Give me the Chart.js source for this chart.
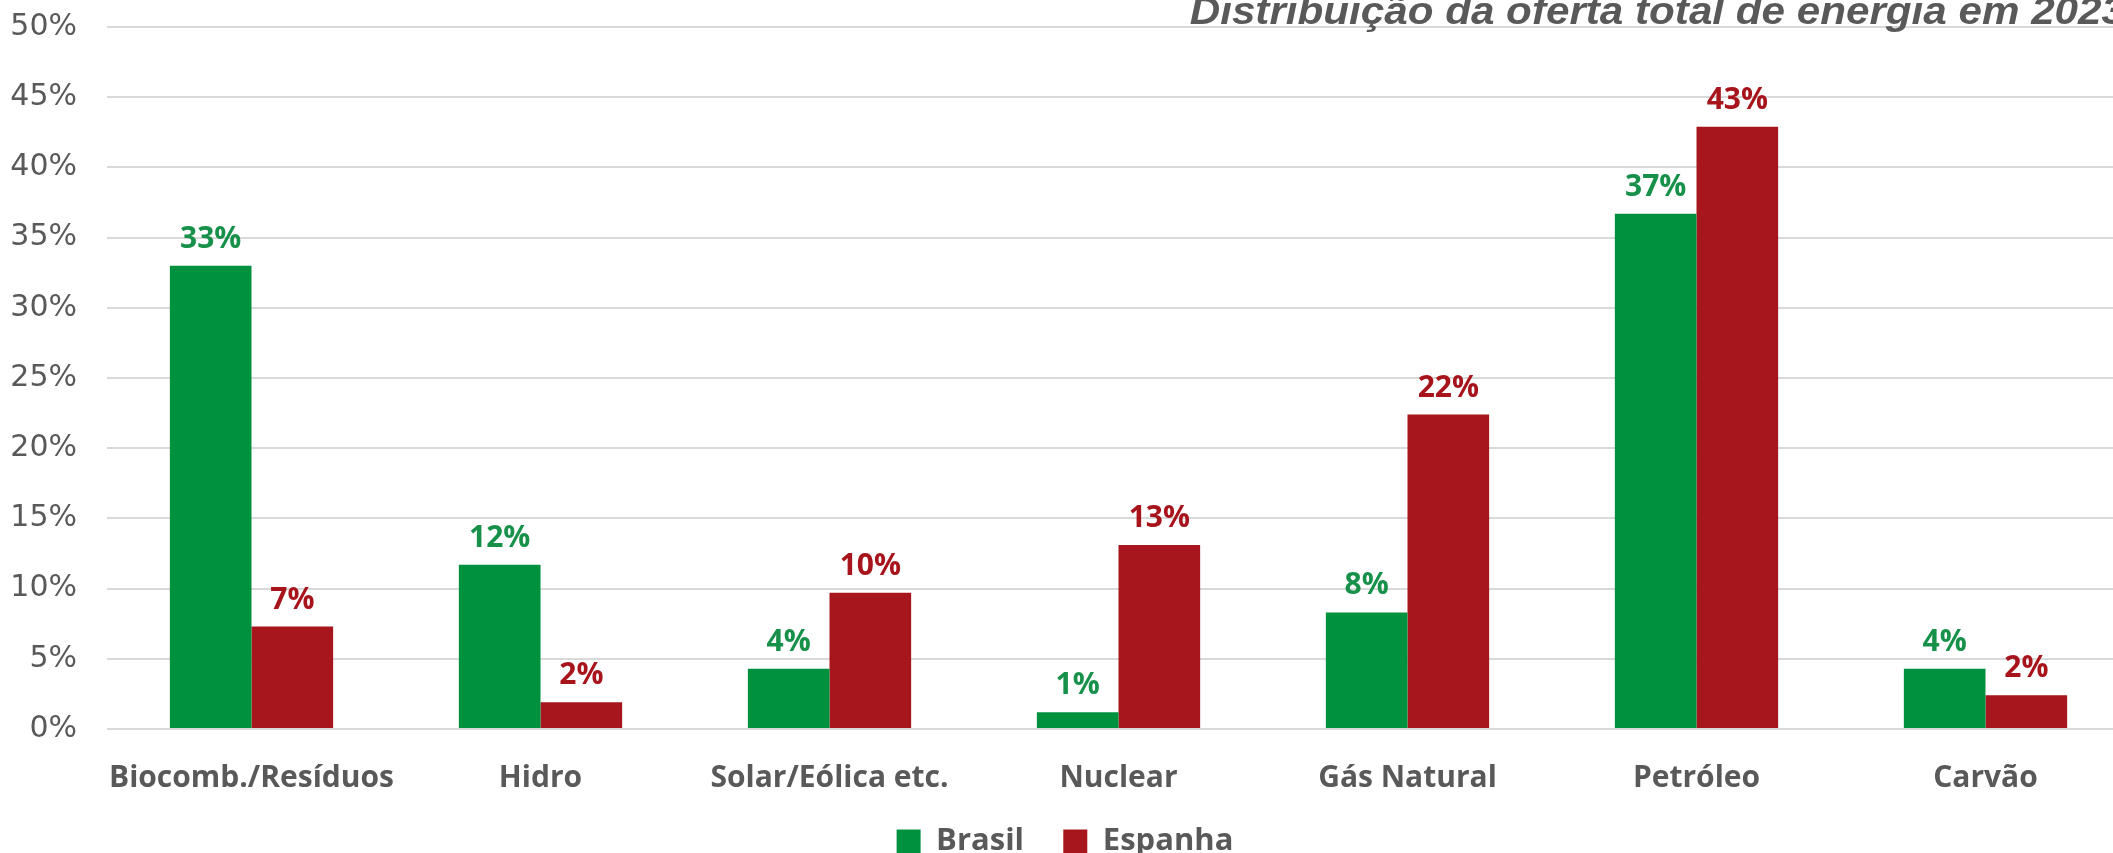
<!DOCTYPE html>
<html>
<head>
<meta charset="utf-8">
<script src="https://cdn.jsdelivr.net/npm/chart.js@4"></script>
<style>
  html, body { margin: 0; padding: 0; background: #fff; overflow: hidden; }
  #box { position: relative; width: 2130px; height: 853px; }
</style>
</head>
<body>
<div id="box"><canvas id="oferta"></canvas></div>
<script>
// dados (% da oferta total)
const categorias = ["Biocomb./Resíduos", "Hidro", "Solar/Eólica etc.", "Nuclear", "Gás Natural", "Petróleo", "Carvão"];
const brasil = [33.0, 11.7, 4.3, 1.2, 8.3, 36.7, 4.3];
const espanha = [7.3, 1.9, 9.7, 13.1, 22.4, 42.9, 2.4];
const titulo = "Distribuição da oferta total de energia em 2023";

const verde = "#00913f";
const vermelho = "#a6161c";
const cinza = "#595959";

// rótulos em cima das barras
const rotulos = {
    id: "rotulos",
    afterDatasetsDraw(chart) {
        const ctx = chart.ctx;
        ctx.save();
        ctx.font = "bold 30px 'Open Sans'";
        ctx.textAlign = "center";
        ctx.textBaseline = "alphabetic";
        chart.data.datasets.forEach(function(ds, i) {
            ctx.fillStyle = ds.labelColor;
            chart.getDatasetMeta(i).data.forEach(function(bar, j) {
                ctx.fillText(Math.round(ds.data[j]) + "%", bar.x, bar.y - 18);
            });
        });
        ctx.restore();
    }
};

// título no canto, cortado como no original
const tituloTopo = {
    id: "tituloTopo",
    afterDraw(chart) {
        const ctx = chart.ctx;
        ctx.save();
        ctx.font = "italic bold 38px 'Liberation Sans'";
        ctx.fillStyle = cinza;
        ctx.textAlign = "right";
        ctx.textBaseline = "alphabetic";
        ctx.translate(chart.width - 5, 24);
        ctx.scale(1.11, 1);
        ctx.fillText(titulo, 0, 0);
        ctx.restore();
    }
};

const canvas = document.getElementById("oferta");

const cfg = {
    type: "bar",
    data: {
        labels: categorias,
        datasets: [
            {
                label: "Brasil",
                data: brasil,
                backgroundColor: verde,
                labelColor: "#17914a",
                barPercentage: 1,
                categoryPercentage: 0.565
            },
            {
                label: "Espanha",
                data: espanha,
                backgroundColor: vermelho,
                labelColor: "#a8141c",
                barPercentage: 1,
                categoryPercentage: 0.565
            }
        ]
    },
    options: {
        responsive: true,
        maintainAspectRatio: false,
        animation: false,
        layout: { padding: { left: 0, top: 27, right: 0, bottom: -14 } },
        scales: {
            x: {
                grid: { display: false },
                border: { display: false },
                ticks: {
                    color: cinza,
                    font: { family: "Open Sans", weight: "bold", size: 30 },
                    padding: 23,
                    maxRotation: 0,
                    minRotation: 0,
                    autoSkip: false
                }
            },
            y: {
                min: 0,
                max: 50,
                border: { display: false },
                grid: { color: "#d9d9d9", lineWidth: 2, drawTicks: false },
                afterFit: function(scale) {
                    scale.width = 107;
                    scale.paddingTop = 0;
                    scale.paddingBottom = 0;
                },
                ticks: {
                    stepSize: 5,
                    color: cinza,
                    font: { family: "DejaVu Sans", size: 30 },
                    padding: 30,
                    callback: function(v) { return v + "%"; }
                }
            }
        },
        plugins: {
            tooltip: { enabled: false },
            legend: {
                position: "bottom",
                labels: {
                    color: cinza,
                    boxWidth: 24,
                    boxHeight: 24,
                    padding: 7,
                    font: { family: "Open Sans", weight: "bold", size: 31 },
                    generateLabels: function(chart) {
                        const itens = Chart.defaults.plugins.legend.labels.generateLabels(chart);
                        itens[0].text = itens[0].text + "    ";
                        return itens;
                    }
                }
            }
        }
    },
    plugins: [rotulos, tituloTopo]
};

const grafico = new Chart(canvas, cfg);
</script>
</body>
</html>
